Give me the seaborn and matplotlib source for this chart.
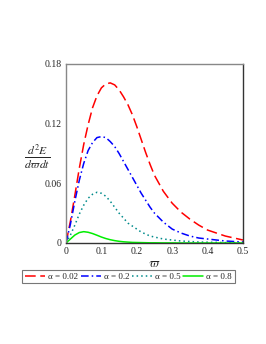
import matplotlib
matplotlib.use("Agg")
import matplotlib.pyplot as plt
import pandas as pd
import seaborn as sns

# omega grid and curves
omega = [0, 0.0125, 0.025, 0.0375, 0.05, 0.0625, 0.075, 0.0875, 0.1,
         0.1125, 0.125, 0.1375, 0.15, 0.1625, 0.175, 0.1875, 0.2, 0.2125,
         0.225, 0.2375, 0.25, 0.275, 0.3, 0.325, 0.35, 0.375, 0.4, 0.425,
         0.45, 0.475, 0.5]
e_002 = [0, 0.022, 0.048, 0.075, 0.099, 0.119, 0.136, 0.148, 0.156, 0.160,
         0.161, 0.159, 0.154, 0.147, 0.139, 0.129, 0.117, 0.104, 0.091,
         0.079, 0.068, 0.052, 0.040, 0.031, 0.024, 0.018, 0.013, 0.010,
         0.007, 0.005, 0.003]
e_02 = [0, 0.019, 0.042, 0.063, 0.080, 0.093, 0.101, 0.106, 0.107, 0.106,
        0.102, 0.097, 0.090, 0.082, 0.074, 0.066, 0.058, 0.050, 0.043,
        0.036, 0.030, 0.021, 0.014, 0.010, 0.007, 0.005, 0.004, 0.003,
        0.002, 0.0015, 0.001]
e_05 = [0, 0.008, 0.018, 0.029, 0.038, 0.045, 0.049, 0.051, 0.050, 0.047,
        0.042, 0.036, 0.030, 0.025, 0.020, 0.017, 0.014, 0.011, 0.009,
        0.007, 0.006, 0.004, 0.003, 0.002, 0.0015, 0.001, 0.0008, 0.0006,
        0.0004, 0.0003, 0.0002]
e_08 = [0, 0.004, 0.008, 0.0105, 0.0114, 0.0108, 0.0095, 0.0078, 0.006,
        0.0045, 0.0033, 0.0024, 0.0017, 0.0012, 0.0009, 0.0006, 0.0005,
        0.0004, 0.0003, 0.0002, 0.0002, 0.0001, 0.0001, 0, 0, 0, 0, 0, 0,
        0, 0]
labels = ["α = 0.02", "α = 0.2", "α = 0.5", "α = 0.8"]
xticks = [0, 0.1, 0.2, 0.3, 0.4, 0.5]
yticks = [0, 0.06, 0.12, 0.18]

sns.set_style("white")
plt.rcParams["font.family"] = ["Liberation Serif", "DejaVu Serif"]
plt.rcParams["mathtext.fontset"] = "stix"

fig = plt.figure(figsize=(2.66, 3.44), dpi=100)
ax = fig.add_axes([66 / 266, 101 / 344, 177 / 266, 179 / 344])

styles = [
    ("#ff0000", (7, 3)),
    ("#0000ff", (5, 2, 1, 2)),
    ("#008b8b", (1, 2)),
    ("#00ee00", None),
]
for vals, lab, (col, dash) in zip([e_002, e_02, e_05, e_08], labels, styles):
    df = pd.DataFrame({"omega": omega, "E": vals})
    sns.lineplot(data=df, x="omega", y="E", ax=ax, color=col,
                 linewidth=1.1, label=lab, legend=False)
    if dash:
        ax.get_lines()[-1].set_dashes(dash)

ax.set_xlim(0, 0.5)
ax.set_ylim(0, 0.18)
ax.set_xticks(xticks)
ax.set_xticklabels(["0", "0.1", "0.2", "0.3", "0.4", "0.5"])
ax.set_yticks(yticks)
ax.set_yticklabels(["0", "0.06", "0.12", "0.18"])
ax.tick_params(length=0, labelsize=7, pad=3)
ax.set_xlabel(r"$\varpi$", fontsize=9, labelpad=1)
ax.set_ylabel("")
fig.text(37 / 266, 1 - 157 / 344, r"$\frac{d^2E}{d\varpi dt}$",
         fontsize=12, ha="center", va="center")

for side in ["left", "top"]:
    ax.spines[side].set_color("#888888")
for side in ["right", "bottom"]:
    ax.spines[side].set_color("#333333")
for sp in ax.spines.values():
    sp.set_linewidth(1.0)

handles = ax.get_lines()[:4]
leg = fig.legend(handles, labels, loc="center", ncol=4,
                 bbox_to_anchor=(128.5 / 266, 1 - 276.5 / 344),
                 fontsize=6.5, frameon=True, fancybox=False,
                 handlelength=2.2, handletextpad=0.35, columnspacing=0.3,
                 borderpad=0.3, borderaxespad=0)
leg.get_frame().set_edgecolor("#555555")
leg.get_frame().set_linewidth(0.8)

fig.savefig("out.png", dpi=100)
